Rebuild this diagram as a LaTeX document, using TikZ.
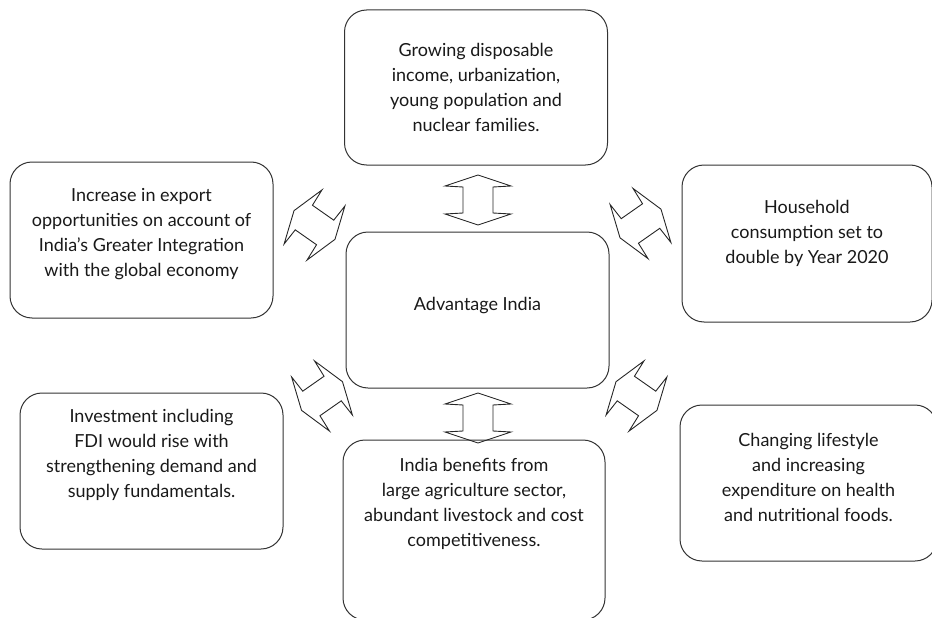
\documentclass[tikz,border=0pt]{standalone}
\usepackage{fontspec}
\setmainfont{Lato}
\tikzset{
	box/.style={draw=black!80,line width=1pt,rounded corners=22pt,inner sep=0pt},
	txt/.style={align=center,inner sep=0pt,text=black!90,font=\fontsize{18}{25}\selectfont},
	dblarrow/.style={draw=black!85,line width=0.9pt,line join=miter},
}
\begin{document}
\begin{tikzpicture}[x=1pt,y=-1pt]
		\useasboundingbox (0,0) rectangle (932,618);
		\clip (0,0) rectangle (932,618);
		% boxes
		\node [box,minimum width=263,minimum height=155] (grow) at (476,87.5) () {};
		\node [box,minimum width=263,minimum height=156] (adv) at (477.5,310) () {};
		\node [box,minimum width=262,minimum height=180] (agri) at (474,530) () {};
		\node [box,minimum width=263,minimum height=156] (export) at (141.5,240) () {};
		\node [box,minimum width=263,minimum height=156] (invest) at (151.5,471) () {};
		\node [box,minimum width=250,minimum height=157] (house) at (807,243.5) () {};
		\node [box,minimum width=257,minimum height=156] (food) at (808.5,483) () {};
		% texts
		\node [txt] (grow-t) at (476,87.5) () {Growing disposable\\income, urbanization,\\young population and\\nuclear families.};
		\node [txt] (adv-t) at (477.5,306) () {Advantage India};
		\node [txt] (agri-t) at (474,504) () {India benefits from\\large agriculture sector,\\abundant livestock and cost\\competitiveness.};
		\node [txt] (export-t) at (141.5,234.5) () {Increase in export\\opportunities on account of\\India’s Greater Integration\\with the global economy};
		\node [txt] (invest-t) at (151.5,455) () {Investment including\\FDI would rise with\\strengthening demand and\\supply fundamentals.};
		\node [txt] (house-t) at (807,233) () {Household\\consumption set to\\double by Year 2020};
		\node [txt] (food-t) at (808.5,477) () {Changing lifestyle\\and increasing\\expenditure on health\\and nutritional foods.};
		% double arrows
		\foreach \x/\y/\a in {478/200/90,478/418/90,640.5/223.5/35,314.5/225/-35,636.5/396/-35,322/396/35}
			\draw [dblarrow,shift={(\x,\y)},rotate=\a] (-25,0) -- (-14,33) -- (-13,15) -- (13,15) -- (14,33) -- (25,0)
			-- (14,-33) -- (13,-15) -- (-13,-15) -- (-14,-33) -- cycle;
	\end{tikzpicture}
\end{document}
